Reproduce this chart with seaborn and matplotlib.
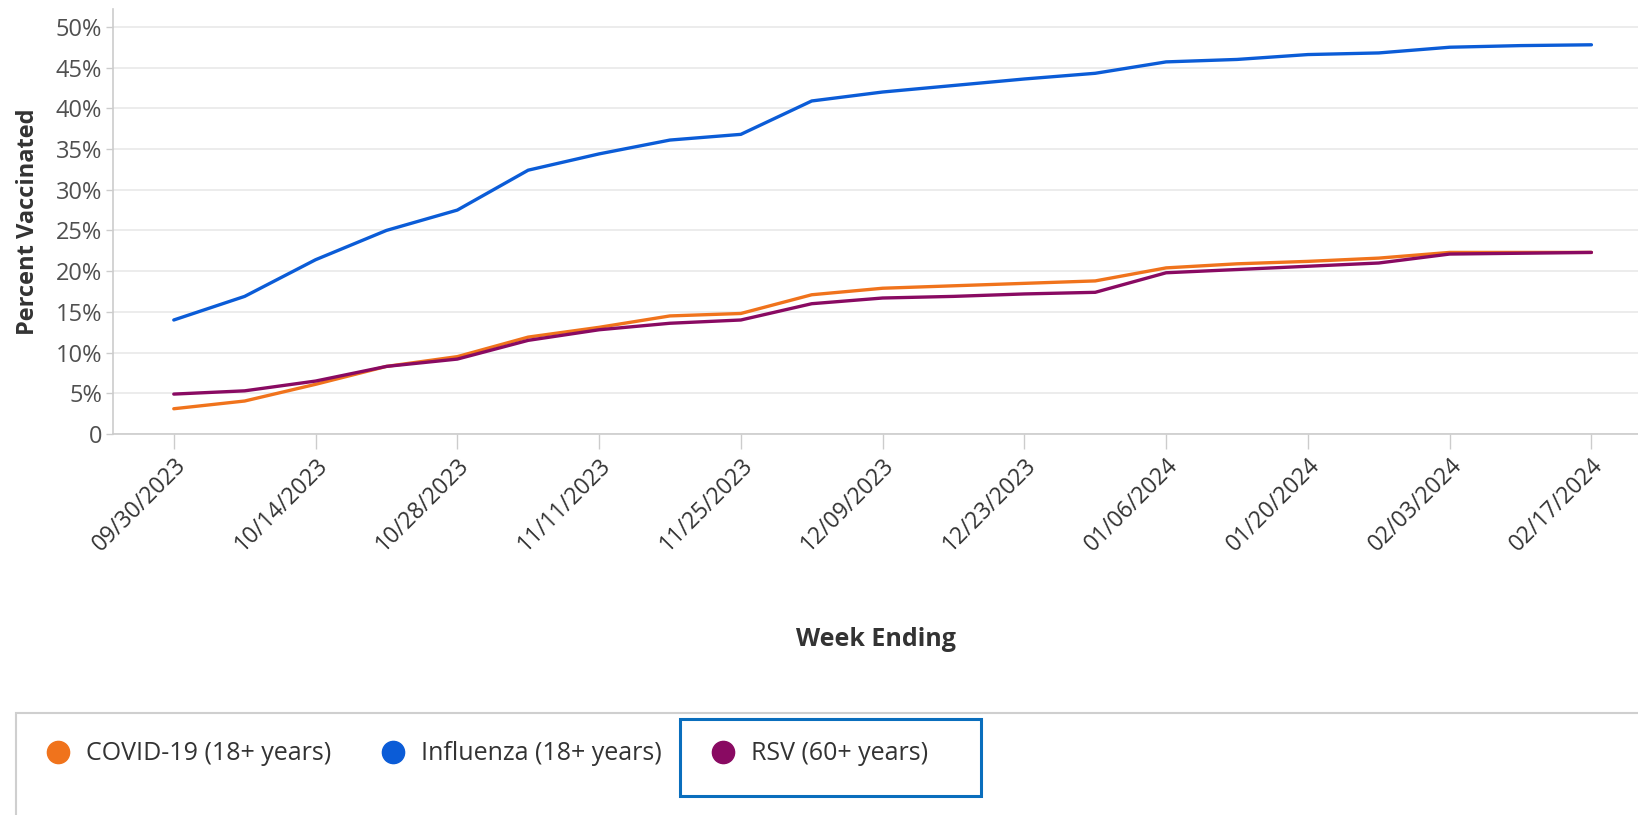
import pandas as pd
import numpy as np
import matplotlib
matplotlib.use("Agg")
import matplotlib.pyplot as plt
import matplotlib.dates as mdates
from matplotlib.patches import Rectangle
from matplotlib.lines import Line2D
import seaborn as sns

# weekly values
week_ending = [
    "09/30/2023", "10/07/2023", "10/14/2023", "10/21/2023", "10/28/2023",
    "11/04/2023", "11/11/2023", "11/18/2023", "11/25/2023", "12/02/2023",
    "12/09/2023", "12/16/2023", "12/23/2023", "12/30/2023", "01/06/2024",
    "01/13/2024", "01/20/2024", "01/27/2024", "02/03/2024", "02/10/2024",
    "02/17/2024",
]
covid = [3.1, 4.05, 6.1, 8.3, 9.5, 11.9, 13.1, 14.5, 14.8, 17.1,
         17.9, 18.2, 18.5, 18.8, 20.4, 20.9, 21.2, 21.6, 22.3, 22.3, 22.3]
flu = [14.0, 16.9, 21.4, 25.0, 27.5, 32.4, 34.4, 36.1, 36.8, 40.9,
       42.0, 42.8, 43.6, 44.3, 45.7, 46.0, 46.6, 46.8, 47.5, 47.7, 47.8]
rsv = [4.9, 5.3, 6.5, 8.3, 9.2, 11.5, 12.8, 13.6, 14.0, 16.0,
       16.7, 16.9, 17.2, 17.4, 19.8, 20.2, 20.6, 21.0, 22.1, 22.2, 22.3]

series_names = ["COVID-19 (18+ years)", "Influenza (18+ years)", "RSV (60+ years)"]
colors = ["#F0731C", "#0B5CD7", "#890A62"]
y_ticks = [0, 5, 10, 15, 20, 25, 30, 35, 40, 45, 50]

dates = pd.to_datetime(week_ending, format="%m/%d/%Y")
df = pd.DataFrame({"week": dates, series_names[0]: covid,
                   series_names[1]: flu, series_names[2]: rsv})
long_df = df.melt(id_vars="week", var_name="series", value_name="pct")

sns.set_theme(style="white")
plt.rcParams["font.family"] = ["Open Sans", "DejaVu Sans"]

fig = plt.figure(figsize=(16.38, 8.15), dpi=100)
ax = fig.add_axes([0.069, 0.4675, 0.931, 0.5215])

sns.lineplot(data=long_df, x="week", y="pct", hue="series",
             hue_order=series_names, palette=colors, linewidth=2.4,
             legend=False, ax=ax)

ax.set_ylim(0, 52.2)
ax.set_yticks(y_ticks)
ax.set_yticklabels(["0"] + [f"{v}%" for v in y_ticks[1:]])
ax.set_xlim(dates[0] - pd.Timedelta(days=6), dates[-1] + pd.Timedelta(days=4.6))
ax.set_xticks(dates[::2])
ax.xaxis.set_major_formatter(mdates.DateFormatter("%m/%d/%Y"))
plt.setp(ax.get_xticklabels(), rotation=45, ha="right", rotation_mode="anchor")

ax.grid(axis="y", color="#ebebeb", linewidth=1.3)
ax.set_axisbelow(True)
for s in ["top", "right"]:
    ax.spines[s].set_visible(False)
for s in ["left", "bottom"]:
    ax.spines[s].set_color("#cccccc")
    ax.spines[s].set_linewidth(1.2)
ax.tick_params(axis="x", length=11, width=1, color="#cccccc",
               labelsize=16.5, labelcolor="#333333", pad=3, bottom=True)
ax.tick_params(axis="y", length=5, width=1, color="#cccccc",
               labelsize=17, labelcolor="#505050", pad=3, left=True)

ax.set_ylabel("Percent Vaccinated", fontsize=17, fontweight="bold", color="#333333")
ax.yaxis.set_label_coords(-0.048, 0.5)
ax.set_xlabel("Week Ending", fontsize=18, fontweight="bold", color="#333333")
ax.xaxis.set_label_coords(0.5, -0.455)

# legend panel
fig.patches.append(Rectangle((0.0096, -0.05), 1.05, 0.175, transform=fig.transFigure,
                             facecolor="white", edgecolor="#cfcfcf", linewidth=1.5))
handles = [Line2D([], [], linestyle="none", marker="o", markersize=16,
                  markerfacecolor=c, markeredgecolor=c) for c in colors]
leg = fig.legend(handles, series_names, loc="center left",
                 bbox_to_anchor=(0.028, 0.075), ncol=3, frameon=False,
                 fontsize=18, handletextpad=0.62, columnspacing=1.95,
                 handlelength=1.0, borderpad=0, borderaxespad=0)
for t in leg.get_texts():
    t.set_color("#333333")

# focus outline around the RSV entry
fig.patches.append(Rectangle((0.415, 0.023), 0.184, 0.095, transform=fig.transFigure,
                             facecolor="none", edgecolor="#0A6EBD", linewidth=2.2))

fig.savefig("out.png", dpi=100)
